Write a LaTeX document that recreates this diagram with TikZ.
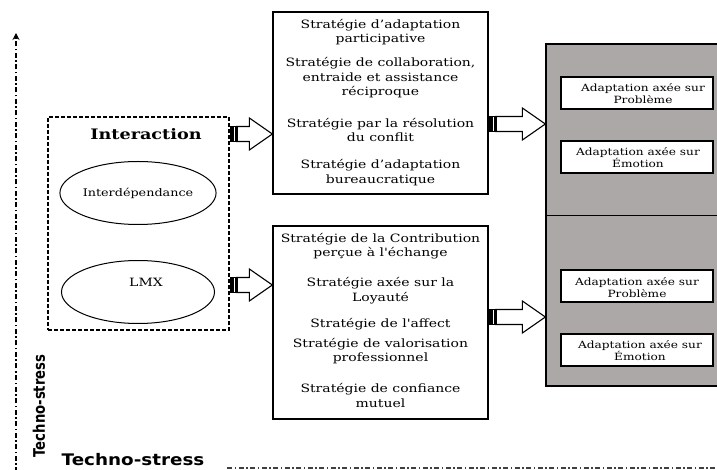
\documentclass[tikz,border=0pt]{standalone}
\usepackage{fontspec}
\setmainfont{DejaVu Serif}
\newfontfamily\widefont[FakeStretch=1.22]{DejaVu Serif}
\newfontfamily\tsfont[FakeStretch=1.15]{DejaVu Sans}
\usetikzlibrary{calc,shapes.geometric,arrows.meta}
\definecolor{adaptgray}{RGB}{172,168,167}
\tikzset{
  strat/.style={align=center, font=\widefont\fontsize{11.5}{14.5}\selectfont, inner sep=0pt},
  stratbox/.style={draw, line width=1.3bp, rectangle, inner sep=0pt},
  innerbox/.style={draw, line width=1.3bp, fill=white, rectangle, minimum width=152bp, minimum height=32bp, inner sep=0pt},
  innertext/.style={align=center, font=\widefont\fontsize{10}{12.5}\selectfont, inner sep=0pt},
  ell/.style={draw, ellipse, line width=1bp, minimum width=153bp, minimum height=63bp, inner sep=0pt},
  tstext/.style={font=\tsfont\bfseries\fontsize{16}{18}\selectfont, inner sep=0pt},
  axisline/.style={line width=1.4bp, dash pattern=on 5bp off 2.5bp on 1.5bp off 2.5bp}
}
\newcommand\blockarrow[2]{%
  \draw[line width=1.1bp, fill=white] let \p1=(#1), \p2=(#2) in
    (\x1+7bp,\y1+7.5bp) -- (\x2-23bp,\y1+7.5bp) -- (\x2-23bp,\y1+16bp) -- (\x2,\y1)
    -- (\x2-23bp,\y1-16bp) -- (\x2-23bp,\y1-7.5bp) -- (\x1+7bp,\y1-7.5bp) -- cycle;
  \fill let \p1=(#1) in (\x1,\y1-8bp) rectangle (\x1+8bp,\y1+8bp);
  \draw[white, line width=1bp] let \p1=(#1) in (\x1+4.5bp,\y1-7bp) -- (\x1+4.5bp,\y1+7bp);
}
\begin{document}
\begin{tikzpicture}[x=1bp,y=-1bp]
\useasboundingbox (0,0) rectangle (717,470);

% axes
\coordinate (axbot) at (16,472);
\coordinate (axtop) at (16,33);
\draw[axisline, -{Stealth[length=7bp,width=7bp]}] (axbot) -- (axtop);
\coordinate (hstart) at (227,468);
\coordinate (hend) at (720,468);
\draw[axisline, black!75, line width=1.1bp] (hstart) -- (hend);

\node[tstext, rotate=90] (tsv) at (39,406) {\scalebox{0.72}[1]{Techno-stress}};
\node[tstext] (tsh) at (133,460) {Techno-stress};

% interaction box
\node[draw, line width=1.3bp, dash pattern=on 4bp off 2bp, minimum width=181bp, minimum height=213bp, inner sep=0pt] (inter) at (138.5,223.5) {};
\node[font=\widefont\bfseries\fontsize{14.5}{16}\selectfont, inner sep=0pt] (intertitle) at (146,134) {Interaction};
\node[ell, font=\widefont\fontsize{10.5}{12}\selectfont] (interd) at (138,193) {Interdépendance};
\node[ell] (lmx) at (138,292) {};
\node[font=\widefont\fontsize{11.5}{12}\selectfont, inner sep=0pt] (lmxt) at (146,282) {LMX};

% strategy boxes
\node[stratbox, minimum width=215bp, minimum height=182bp] (s1) at (380.5,103) {};
\node[strat] at (380.5,32) {Stratégie d’adaptation\\participative};
\node[strat] at (380.5,78) {Stratégie de collaboration,\\entraide et assistance\\réciproque};
\node[strat] at (380.5,130) {Stratégie par la résolution\\du conflit};
\node[strat] at (380.5,172.5) {Stratégie d’adaptation\\bureaucratique};

\node[stratbox, minimum width=215bp, minimum height=193bp] (s2) at (380.5,322.5) {};
\node[strat] at (380.5,246) {Stratégie de la Contribution\\perçue à l'échange};
\node[strat] at (380.5,290.5) {Stratégie axée sur la\\Loyauté};
\node[strat] at (380.5,324) {Stratégie de l'affect};
\node[strat] at (380.5,351) {Stratégie de valorisation\\professionnel};
\node[strat] at (380.5,395.5) {Stratégie de confiance\\mutuel};

% adaptation gray box
\node[draw, line width=1.3bp, fill=adaptgray, minimum width=184bp, minimum height=342bp, inner sep=0pt] (adapt) at (638,215) {};
\draw[line width=1bp] (adapt.west |- 0,216) -- (adapt.east |- 0,216);
\node[innerbox] (p1) at (637,93) {};
\node[innertext] at (643,93.5) {Adaptation axée sur\\Problème};
\node[innerbox] (e1) at (637,157) {};
\node[innertext] at (638,157.5) {Adaptation axée sur\\Émotion};
\node[innerbox] (p2) at (637,286) {};
\node[innertext] at (637,287.5) {Adaptation axée sur\\Problème};
\node[innerbox] (e2) at (637,350) {};
\node[innertext] at (640,350.5) {Adaptation axée sur\\Émotion};

% block arrows
\coordinate (a1s) at (inter.east |- 0,134);
\coordinate (a1e) at (s1.west |- 0,134);
\blockarrow{a1s}{a1e}
\coordinate (a2s) at (inter.east |- 0,285);
\coordinate (a2e) at (s2.west |- 0,285);
\blockarrow{a2s}{a2e}
\coordinate (a3s) at (s1.east |- 0,124);
\coordinate (a3e) at (adapt.west |- 0,124);
\blockarrow{a3s}{a3e}
\coordinate (a4s) at (s2.east |- 0,317);
\coordinate (a4e) at (adapt.west |- 0,317);
\blockarrow{a4s}{a4e}
\end{tikzpicture}
\end{document}
